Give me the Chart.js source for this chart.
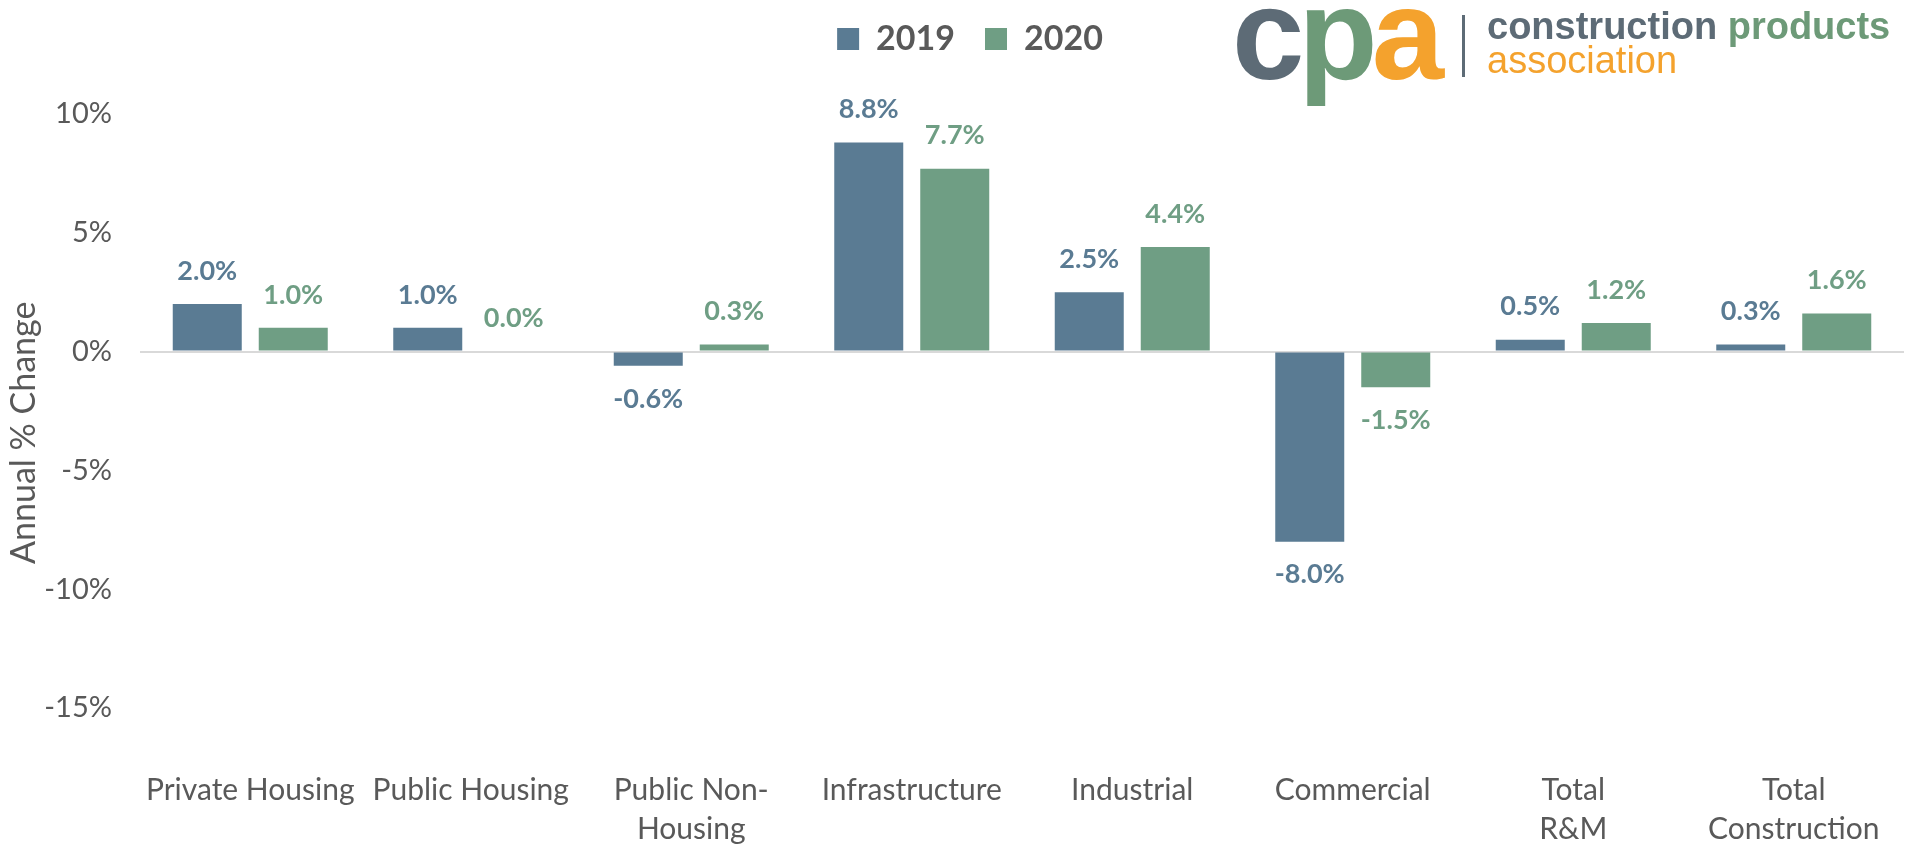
<!DOCTYPE html>
<html>
<head>
<meta charset="utf-8">
<title>Construction output forecast</title>
<script src="https://cdn.jsdelivr.net/npm/chart.js@4"></script>
<style>
  html, body { margin: 0; padding: 0; background: #fff; overflow: hidden; }
  #wrap { position: relative; width: 1915px; height: 844px; }
  #chart { display: block; }
  .logo { position: absolute; font-family: "Liberation Sans", Arial, sans-serif; white-space: nowrap; }
  #cpa { left: 1232px; top: -31px; font-size: 130px; line-height: 130px; font-weight: bold; letter-spacing: -6px; }
  #bar { left: 1462px; top: 15px; width: 3px; height: 62px; background: #5d6b76; }
  #name1 { left: 1487px; top: 7px; font-size: 38px; line-height: 38px; font-weight: bold; }
  #name2 { left: 1487px; top: 41px; font-size: 38px; line-height: 38px; color: #f4a22d; }
</style>
</head>
<body>
<div id="wrap">
  <canvas id="chart"></canvas>
  <div class="logo" id="cpa"><span style="color:#5d6b76">c</span><span style="color:#6d9a78">p</span><span style="color:#f4a22d">a</span></div>
  <div class="logo" id="bar"></div>
  <div class="logo" id="name1"><span style="color:#5d6b76">construction</span> <span style="color:#6d9a78">products</span></div>
  <div class="logo" id="name2">association</div>
</div>
<script>
const categories = [
  'Private Housing',
  'Public Housing',
  ['Public Non-', 'Housing'],
  'Infrastructure',
  'Industrial',
  'Commercial',
  ['Total', 'R&M'],
  ['Total', 'Construction'],
];
const change2019 = [2.0, 1.0, -0.6, 8.8, 2.5, -8.0, 0.5, 0.3];
const change2020 = [1.0, 0.0, 0.3, 7.7, 4.4, -1.5, 1.2, 1.6];

const BLUE = '#5a7b93';
const GREEN = '#6f9e84';
const TEXT = '#595959';
const FONT = 'Lato';

// value above positive bars, below negative ones
const barValueLabels = {
  id: 'barValueLabels',
  afterDatasetsDraw(chart) {
    const ctx = chart.ctx;
    ctx.save();
    ctx.font = 'bold 27px ' + FONT;
    ctx.textAlign = 'center';
    ctx.textBaseline = 'middle';
    chart.data.datasets.forEach((ds, i) => {
      ctx.fillStyle = ds.backgroundColor;
      chart.getDatasetMeta(i).data.forEach((bar, j) => {
        const v = ds.data[j];
        const y = v >= 0 ? bar.y - 33 : bar.y + 33;
        ctx.fillText(v.toFixed(1) + '%', bar.x, y);
      });
    });
    ctx.restore();
  },
};

// reserve room under the legend and nudge it into place
const legendSpacing = {
  id: 'legendSpacing',
  beforeInit(chart) {
    const fit = chart.legend.fit;
    chart.legend.fit = function () {
      fit.call(this);
      this.height = 114;
    };
  },
  afterLayout(chart) {
    const lg = chart.legend;
    lg.top -= 8; lg.bottom -= 8;
    lg.left += 18; lg.right += 18;
  },
};

new Chart(document.getElementById('chart'), {
  type: 'bar',
  data: {
    labels: categories,
    datasets: [
      { label: '2019', data: change2019, backgroundColor: BLUE, borderWidth: 0 },
      { label: '2020', data: change2020, backgroundColor: GREEN, borderWidth: 0 },
    ],
  },
  options: {
    responsive: true,
    maintainAspectRatio: false,
    animation: false,
    layout: { padding: { top: 0, right: 11, bottom: 0, left: 0 } },
    datasets: {
      bar: { categoryPercentage: 0.78, barPercentage: 1, maxBarThickness: 69 },
    },
    plugins: {
      tooltip: { enabled: false },
      legend: {
        position: 'top',
        labels: {
          boxWidth: 22,
          boxHeight: 22,
          padding: 30,
          color: TEXT,
          font: { family: FONT, size: 34, weight: 'bold' },
        },
      },
    },
    scales: {
      x: {
        grid: { display: false, drawTicks: false },
        border: { display: false },
        ticks: {
          padding: 63,
          maxRotation: 0,
          autoSkip: false,
          color: TEXT,
          font: { family: FONT, size: 30, lineHeight: 1.3 },
        },
        afterFit(scale) {
          // labels sit well inside their categories, no side padding needed
          scale.height = 136;
          scale.paddingLeft = 0;
          scale.paddingRight = 0;
        },
      },
      y: {
        min: -15,
        max: 10,
        grid: {
          drawTicks: false,
          lineWidth: 2,
          color: (c) => (c.tick && c.tick.value === 0 ? '#d9d9d9' : 'rgba(0,0,0,0)'),
        },
        border: { display: false },
        ticks: {
          stepSize: 5,
          padding: 28,
          color: TEXT,
          font: { family: FONT, size: 29 },
          callback: (v) => v + '%',
        },
        title: {
          display: true,
          // trailing spaces drop the rotated title a little below centre
          text: 'Annual % Change     ',
          color: TEXT,
          font: { family: FONT, size: 34 },
          padding: { top: 4, bottom: 0 },
        },
        afterFit(scale) { scale.width = 140; },
      },
    },
  },
  plugins: [barValueLabels, legendSpacing],
});
</script>
</body>
</html>
